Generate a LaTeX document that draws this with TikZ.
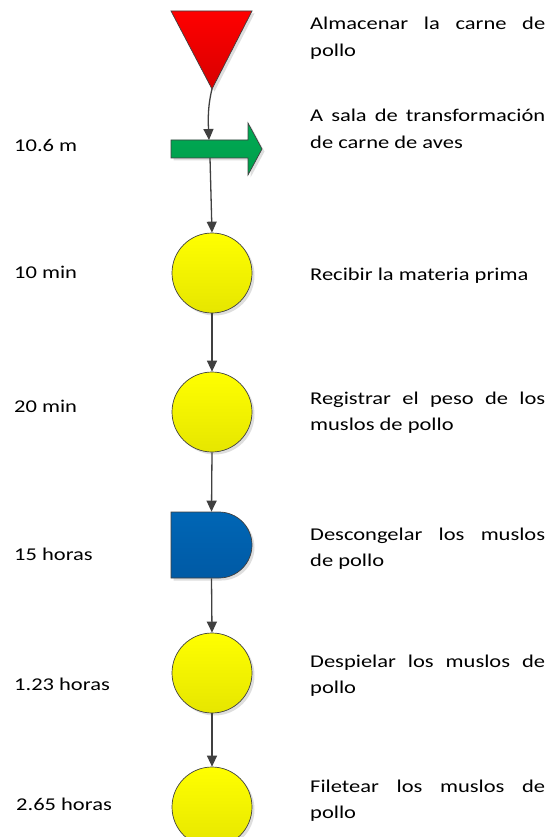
\documentclass[tikz,border=0pt]{standalone}
\usepackage{fontspec}
\setmainfont{Carlito}[FakeStretch=1.25]
\usetikzlibrary{arrows.meta,shapes.misc,shadows}
\hyphenpenalty=10000
\exhyphenpenalty=10000
\tolerance=9999
\definecolor{lineg}{HTML}{404040}
\definecolor{redtop}{HTML}{FF0000}
\definecolor{redbot}{HTML}{D80000}
\definecolor{greentop}{HTML}{00AA55}
\definecolor{greenbot}{HTML}{009E4A}
\definecolor{bluetop}{HTML}{0066B5}
\definecolor{bluebot}{HTML}{005AA5}
\definecolor{yeltop}{HTML}{FFFF00}
\definecolor{yelbot}{HTML}{E6E600}
\tikzset{
  shad/.style={drop shadow={shadow xshift=2.5pt,shadow yshift=-2.5pt,fill=black!18,opacity=0.7}},
  proc/.style={circle,minimum size=80pt,inner sep=0pt,draw=lineg,line width=0.7pt,
    top color=yeltop,bottom color=yelbot,shad},
  delaybox/.style={rounded rectangle,rounded rectangle west arc=none,
    minimum width=81pt,minimum height=66pt,inner sep=0pt,draw=lineg,line width=0.7pt,
    top color=bluetop,bottom color=bluebot,shad},
  conn/.style={draw=lineg,line width=1.3pt,-{Triangle[length=11pt,width=10pt]}},
  lbl/.style={anchor=base west,inner sep=0pt,font=\fontsize{18}{26.5}\selectfont},
  desc/.style={anchor=base west,inner sep=0pt,text width=235pt,align=justify,
    font=\fontsize{18}{26.5}\selectfont}
}
\begin{document}
\begin{tikzpicture}[x=1pt,y=-1pt]
\useasboundingbox (0,0) rectangle (552,837);
\fill[white] (0,0) rectangle (552,837);

% storage triangle
\path[draw=lineg,line width=0.7pt,top color=redtop,bottom color=redbot,shad]
  (171,11) -- (252,11) -- (212,89) -- cycle;
\coordinate (tri) at (212,89);

% transport arrow
\path[draw=lineg,line width=0.7pt,top color=greentop,bottom color=greenbot,shad]
  (171,140) -- (248,140) -- (248,123) -- (262,149) -- (248,175) -- (248,158) -- (171,158) -- cycle;
\coordinate (arrtop) at (209,140);
\coordinate (arrbot) at (210,158);

% operations and delay
\node[proc] (c1) at (212,273) {};
\node[proc] (c2) at (212,412) {};
\node[delaybox] (d) at (211.5,545) {};
\node[proc] (c3) at (212,673) {};
\node[proc] (c4) at (212,807) {};

% connectors
\draw[conn] (tri) .. controls (208,105) and (208,118) .. (arrtop);
\draw[conn] (arrbot) -- (c1.north);
\draw[conn] (c1.south) -- (c2.north);
\draw[conn] (c2.south) -- (d.north);
\draw[conn] (d.south) -- (c3.north);
\draw[conn] (c3.south) -- (c4.north);

% left labels
\node[lbl] (l1) at (14,152) {10.6 m};
\node[lbl] (l2) at (14,278) {10 min};
\node[lbl] (l3) at (14,412) {20 min};
\node[lbl] (l4) at (14,560) {15 horas};
\node[lbl] (l5) at (14,690) {1.23 horas};
\node[lbl] (l6) at (16,810) {2.65 horas};

% right descriptions
\node[desc] (t1) at (310,30) {Almacenar la carne de pollo};
\node[desc] (t2) at (310,122) {A sala de transformación de carne de aves};
\node[desc] (t3) at (310,280) {Recibir la materia prima};
\node[desc] (t4) at (310,404) {Registrar el peso de los muslos de pollo};
\node[desc] (t5) at (310,540) {Descongelar los muslos de pollo};
\node[desc] (t6) at (310,667) {Despielar los muslos de pollo};
\node[desc] (t7) at (310,792) {Filetear los muslos de pollo};
\end{tikzpicture}
\end{document}
